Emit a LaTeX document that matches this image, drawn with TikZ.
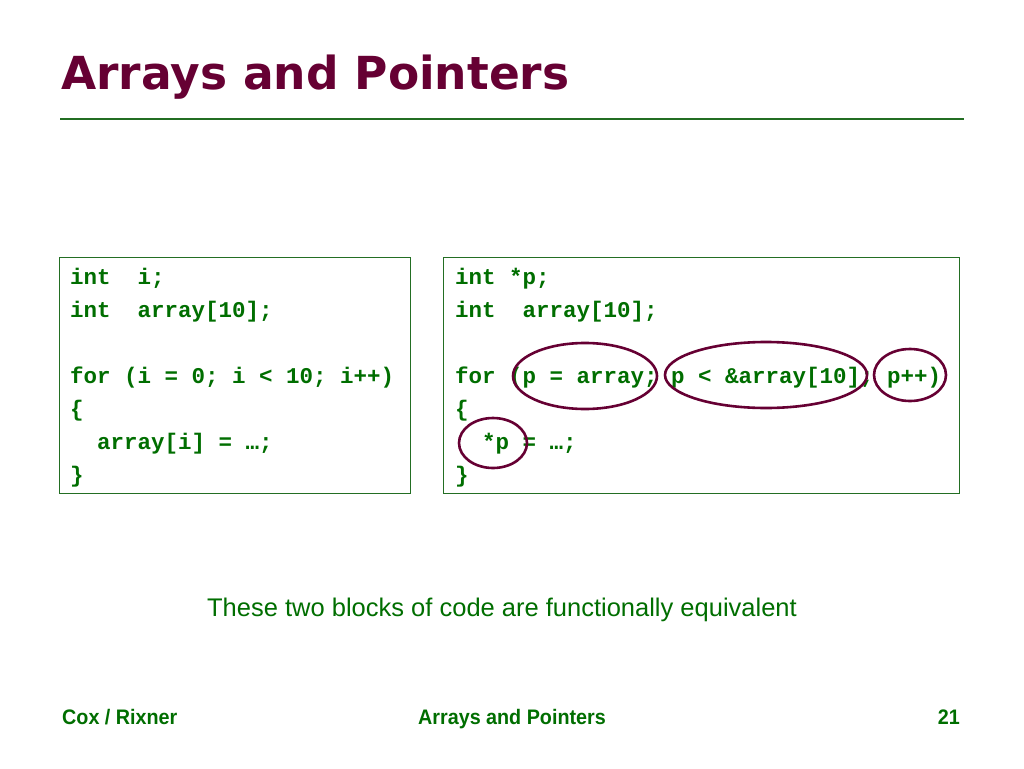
\documentclass[tikz,border=0pt]{standalone}
\usepackage{fontspec}
\setmainfont{Liberation Sans}
\newfontfamily\titlefont{DejaVu Sans}
\newfontfamily\codefont{Liberation Mono}
\newfontfamily\narrowfont[FakeStretch=0.94]{Liberation Sans}
\usepackage{tikz}
\usetikzlibrary{positioning}

\definecolor{slidetitle}{RGB}{102,0,51}
\definecolor{slidetext}{RGB}{0,110,0}
\definecolor{slideline}{RGB}{35,110,35}

\begin{document}
\begin{tikzpicture}[
    x=1pt, y=-1pt,
    codeline/.style={anchor=base west, inner sep=0pt, text=slidetext,
        font=\codefont\bfseries\fontsize{22.5}{27}\selectfont},
    codebox/.style={draw=slideline, line width=1pt},
    hilite/.style={draw=slidetitle, line width=2.6pt},
    footer/.style={inner sep=0pt, text=slidetext,
        font=\narrowfont\bfseries\fontsize{21}{25}\selectfont}
]
    \useasboundingbox[fill=white] (0,0) rectangle (1024,768);

    % Title and rule
    \node[anchor=base west, inner sep=0pt, text=slidetitle,
        font=\titlefont\bfseries\fontsize{45.5}{52}\selectfont] (title) at (61,89) {Arrays and Pointers};
    \draw[slideline, line width=2pt] (60,119) -- (964,119);

    % Boxes
    \draw[codebox] (59,257) rectangle (410,493);
    \draw[codebox] (443,257) rectangle (959,493);

    % Left block (index)
    \node[codeline] (la) at (70,284) {int\ \ i;};
    \node[codeline] (lb) at (70,317) {int\ \ array[10];};
    \node[codeline] (lc) at (70,383) {for (i = 0; i < 10; i++)};
    \node[codeline] (ld) at (70,416) {\{};
    \node[codeline] (le) at (70,449) {\ \ array[i] = …;};
    \node[codeline] (lf) at (70,482) {\}};

    % Right block (pointer)
    \node[codeline] (ra) at (455,284) {int *p;};
    \node[codeline] (rb) at (455,317) {int\ \ array[10];};
    \node[codeline] (rc) at (455,383) {for (p = array; p < \&array[10]; p++)};
    \node[codeline] (rd) at (455,416) {\{};
    \node[codeline] (re) at (455,449) {\ \ *p = …;};
    \node[codeline] (rf) at (455,482) {\}};

    % Highlights
    \draw[hilite] (585,376) ellipse [x radius=72pt, y radius=33pt];
    \draw[hilite] (766,375) ellipse [x radius=101pt, y radius=33pt];
    \draw[hilite] (910,375) ellipse [x radius=36pt, y radius=26pt];
    \draw[hilite] (493,443) ellipse [x radius=34pt, y radius=25pt];

    % Caption
    \node[inner sep=0pt, text=slidetext, font=\fontsize{25.5}{30}\selectfont]
        (note) at (502,610) {These two blocks of code are functionally equivalent};

    % Footer
    \node[footer, anchor=base west] (author) at (62,724) {Cox / Rixner};
    \node[footer, anchor=base] (topic) at (512,724) {Arrays and Pointers};
    \node[footer, anchor=base east] (page) at (960,724) {21};
\end{tikzpicture}
\end{document}
